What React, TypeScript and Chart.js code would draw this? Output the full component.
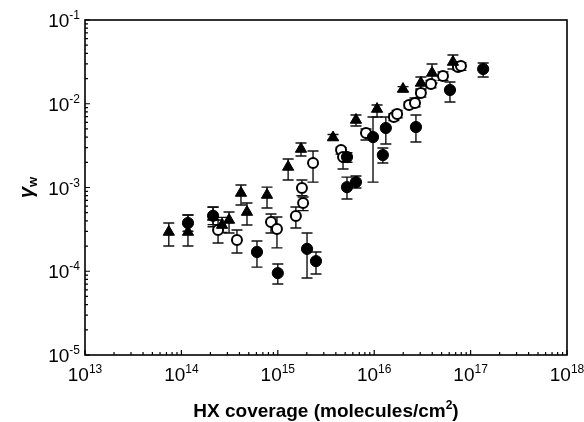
import React, { useEffect, useRef } from "react";
import { Chart, registerables } from "chart.js";

Chart.register(...registerables);

// Axis ticks (decades) and their exponent labels
const xTickValues = [1e13, 1e14, 1e15, 1e16, 1e17, 1e18];
const xTickExps = ["13", "14", "15", "16", "17", "18"];
const yTickValues = [1e-5, 1e-4, 1e-3, 1e-2, 1e-1];
const yTickExps = ["-5", "-4", "-3", "-2", "-1"];

const xTitleMain = "HX coverage (molecules/cm";
const xTitleSup = "2";
const xTitleEnd = ")";
const yTitleMain = "γ";
const yTitleSub = "w";

// Filled triangles
const triX = [7.4e13, 1.17e14, 2.13e14, 2.64e14, 3.12e14, 4.15e14, 4.79e14, 7.73e14, 1.28e15, 1.74e15, 3.74e15, 6.47e15, 1.07e16, 1.99e16, 3.05e16, 3.98e16, 6.56e16];
const triY = [2.94e-4, 2.94e-4, 4.45e-4, 3.56e-4, 4.09e-4, 8.59e-4, 5.09e-4, 8.13e-4, 1.76e-3, 2.88e-3, 3.95e-3, 6.4e-3, 8.65e-3, 1.5e-2, 1.77e-2, 2.33e-2, 3.15e-2];
const triLo = [2.0e-4, 2.0e-4, 3.4e-4, 2.9e-4, 2.86e-4, 6.18e-4, 3.56e-4, 5.69e-4, 1.23e-3, 2.38e-3, 3.7e-3, 5.42e-3, 6.95e-3, 1.4e-2, 1.5e-2, 1.77e-2, 2.6e-2];
const triHi = [3.77e-4, 4.7e-4, 5.85e-4, 4.4e-4, 5.09e-4, 1.07e-3, 6.53e-4, 1.01e-3, 2.19e-3, 3.4e-3, 4.3e-3, 7.34e-3, 9.66e-3, 1.6e-2, 2.09e-2, 2.98e-2, 3.82e-2];

// Filled circles
const fillX = [1.17e14, 2.13e14, 6.08e14, 1.0e15, 2.01e15, 2.49e15, 5.22e15, 6.47e15, 5.22e15, 9.72e15, 1.23e16, 1.32e16, 2.71e16, 6.11e16, 1.35e17];
const fillY = [3.77e-4, 4.6e-4, 1.7e-4, 9.5e-5, 1.85e-4, 1.32e-4, 1.01e-3, 1.16e-3, 2.31e-3, 4.0e-3, 2.44e-3, 5.13e-3, 5.27e-3, 1.46e-2, 2.6e-2];
const fillLo = [3.0e-4, 3.6e-4, 1.12e-4, 7.05e-5, 8.3e-5, 9.27e-5, 7.29e-4, 9.86e-4, 2.0e-3, 1.16e-3, 1.96e-3, 3.31e-3, 3.49e-3, 1.05e-2, 2.09e-2];
const fillHi = [4.7e-4, 5.8e-4, 2.3e-4, 1.22e-4, 2.86e-4, 1.7e-4, 1.33e-3, 1.37e-3, 2.6e-3, 6.95e-3, 2.96e-3, 6.95e-3, 7.34e-3, 1.82e-2, 3.07e-2];

// Open circles
const openX = [2.4e14, 3.77e14, 8.5e14, 9.8e14, 1.54e15, 1.78e15, 1.83e15, 2.32e15, 4.53e15, 4.75e15, 8.22e15, 1.6e16, 1.73e16, 2.3e16, 2.65e16, 3.05e16, 3.88e16, 5.17e16, 7.4e16, 7.94e16];
const openY = [3.11e-4, 2.36e-4, 3.87e-4, 3.19e-4, 4.57e-4, 9.86e-4, 6.53e-4, 1.96e-3, 2.81e-3, 2.31e-3, 4.48e-3, 6.95e-3, 7.55e-3, 9.66e-3, 1.02e-2, 1.34e-2, 1.72e-2, 2.14e-2, 2.75e-2, 2.82e-2];
const openLo = [2.17e-4, 1.65e-4, 2.86e-4, 1.9e-4, 3.28e-4, 8.0e-4, 5.3e-4, 1.16e-3, 2.5e-3, 1.66e-3, 3.69e-3, 6.3e-3, 6.8e-3, 8.9e-3, 9.2e-3, 1.2e-2, 1.55e-2, 1.9e-2, 2.5e-2, 2.5e-2];
const openHi = [4.09e-4, 3.11e-4, 4.83e-4, 4.45e-4, 5.85e-4, 1.23e-3, 7.7e-4, 2.73e-3, 3.0e-3, 2.6e-3, 5.0e-3, 7.6e-3, 8.3e-3, 1.05e-2, 1.17e-2, 1.46e-2, 1.9e-2, 2.4e-2, 3.0e-2, 3.1e-2];

const FONT = "'Liberation Sans', Arial, Helvetica, sans-serif";

const toPoints = (xs: number[], ys: number[]) => xs.map((x, i) => ({ x, y: ys[i] }));

const errorSets = [
  { lo: triLo, hi: triHi },
  { lo: fillLo, hi: fillHi },
  { lo: openLo, hi: openHi },
];

const errorBarPlugin = {
  id: "errorBars",
  beforeDatasetsDraw(chart: any) {
    const ctx = chart.ctx;
    const xs = chart.scales.x;
    const ys = chart.scales.y;
    ctx.save();
    ctx.strokeStyle = "#111";
    ctx.lineWidth = 1.4;
    chart.data.datasets.forEach((ds: any, di: number) => {
      const e = errorSets[di];
      ds.data.forEach((p: any, i: number) => {
        const px = xs.getPixelForValue(p.x);
        const yl = ys.getPixelForValue(e.lo[i]);
        const yh = ys.getPixelForValue(e.hi[i]);
        ctx.beginPath();
        ctx.moveTo(px, yl);
        ctx.lineTo(px, yh);
        ctx.moveTo(px - 5.5, yl);
        ctx.lineTo(px + 5.5, yl);
        ctx.moveTo(px - 5.5, yh);
        ctx.lineTo(px + 5.5, yh);
        ctx.stroke();
      });
    });
    ctx.restore();
  },
};

function drawPow(ctx: CanvasRenderingContext2D, base: string, exp: string, x: number, y: number, align: string) {
  ctx.font = `19px ${FONT}`;
  const wb = ctx.measureText(base).width;
  ctx.font = `12px ${FONT}`;
  const we = ctx.measureText(exp).width;
  const w = wb + we;
  let sx = x;
  if (align === "center") sx = x - w / 2;
  else if (align === "right") sx = x - w;
  ctx.textAlign = "left";
  ctx.textBaseline = "alphabetic";
  ctx.font = `19px ${FONT}`;
  ctx.fillText(base, sx, y);
  ctx.font = `12px ${FONT}`;
  ctx.fillText(exp, sx + wb, y - 8);
}

const axesPlugin = {
  id: "customAxes",
  afterDraw(chart: any) {
    const ctx: CanvasRenderingContext2D = chart.ctx;
    const { left, right, top, bottom } = chart.chartArea;
    const xs = chart.scales.x;
    const ys = chart.scales.y;
    ctx.save();
    ctx.fillStyle = "#000";
    ctx.strokeStyle = "#000";
    // frame
    ctx.lineWidth = 1.6;
    ctx.strokeRect(left, top, right - left, bottom - top);
    // ticks (inward)
    ctx.lineWidth = 1.2;
    ctx.beginPath();
    for (let d = 0; d < xTickValues.length; d++) {
      const base = xTickValues[d];
      const px = xs.getPixelForValue(base);
      ctx.moveTo(px, bottom);
      ctx.lineTo(px, bottom - 5);
      if (d < xTickValues.length - 1) {
        for (let m = 2; m <= 9; m++) {
          const mx = xs.getPixelForValue(base * m);
          ctx.moveTo(mx, bottom);
          ctx.lineTo(mx, bottom - 3);
        }
      }
    }
    for (let d = 0; d < yTickValues.length; d++) {
      const base = yTickValues[d];
      const py = ys.getPixelForValue(base);
      ctx.moveTo(left, py);
      ctx.lineTo(left + 5, py);
      if (d < yTickValues.length - 1) {
        for (let m = 2; m <= 9; m++) {
          const my = ys.getPixelForValue(base * m);
          ctx.moveTo(left, my);
          ctx.lineTo(left + 3, my);
        }
      }
    }
    ctx.stroke();
    // tick labels
    xTickValues.forEach((v, i) => {
      drawPow(ctx, "10", xTickExps[i], xs.getPixelForValue(v), bottom + 26, "center");
    });
    yTickValues.forEach((v, i) => {
      drawPow(ctx, "10", yTickExps[i], left - 5, ys.getPixelForValue(v) + 7, "right");
    });
    // x title
    ctx.font = `bold 19px ${FONT}`;
    const w1 = ctx.measureText(xTitleMain).width;
    const w3 = ctx.measureText(xTitleEnd).width;
    ctx.font = `bold 12px ${FONT}`;
    const w2 = ctx.measureText(xTitleSup).width;
    const cx = (left + right) / 2;
    const sx = cx - (w1 + w2 + w3) / 2;
    const by = 417;
    ctx.textAlign = "left";
    ctx.font = `bold 19px ${FONT}`;
    ctx.fillText(xTitleMain, sx, by);
    ctx.font = `bold 12px ${FONT}`;
    ctx.fillText(xTitleSup, sx + w1, by - 8);
    ctx.font = `bold 19px ${FONT}`;
    ctx.fillText(xTitleEnd, sx + w1 + w2, by);
    // y title (rotated)
    ctx.translate(33, (top + bottom) / 2);
    ctx.rotate(-Math.PI / 2);
    ctx.font = `italic bold 20px ${FONT}`;
    const g = ctx.measureText(yTitleMain).width;
    ctx.font = `bold 13px ${FONT}`;
    const wsub = ctx.measureText(yTitleSub).width;
    const gx = -(g + wsub) / 2;
    ctx.font = `italic bold 20px ${FONT}`;
    ctx.fillText(yTitleMain, gx, 0);
    ctx.font = `bold 13px ${FONT}`;
    ctx.fillText(yTitleSub, gx + g, 4);
    ctx.restore();
  },
};

export default function App() {
  const ref = useRef<HTMLCanvasElement | null>(null);
  useEffect(() => {
    if (!ref.current) return;
    const chart = new Chart(ref.current, {
      type: "scatter",
      data: {
        datasets: [
          {
            label: "triangles",
            data: toPoints(triX, triY),
            pointStyle: "triangle",
            pointRadius: 6.5,
            backgroundColor: "#000",
            borderColor: "#000",
            borderWidth: 1,
          },
          {
            label: "filled",
            data: toPoints(fillX, fillY),
            pointStyle: "circle",
            pointRadius: 5.6,
            backgroundColor: "#000",
            borderColor: "#000",
            borderWidth: 1,
          },
          {
            label: "open",
            data: toPoints(openX, openY),
            pointStyle: "circle",
            pointRadius: 5,
            backgroundColor: "#fff",
            borderColor: "#000",
            borderWidth: 2,
          },
        ],
      },
      options: {
        responsive: false,
        animation: false,
        layout: { padding: { left: 0, top: 20, right: 17, bottom: 0 } },
        plugins: { legend: { display: false }, tooltip: { enabled: false } },
        scales: {
          x: {
            type: "logarithmic",
            min: 1e13,
            max: 1e18,
            grid: { display: false },
            border: { display: false },
            ticks: { display: false },
            afterFit: (s: any) => { s.height = 67; },
          },
          y: {
            type: "logarithmic",
            min: 1e-5,
            max: 1e-1,
            grid: { display: false },
            border: { display: false },
            ticks: { display: false },
            afterFit: (s: any) => { s.width = 85; },
          },
        },
      },
      plugins: [errorBarPlugin, axesPlugin],
    } as any);
    return () => chart.destroy();
  }, []);
  return (
    <div style={{ position: "fixed", left: 0, top: 0, width: 584, height: 422, background: "#fff" }}>
      <canvas ref={ref} width={584} height={422} style={{ display: "block" }} />
    </div>
  );
}
